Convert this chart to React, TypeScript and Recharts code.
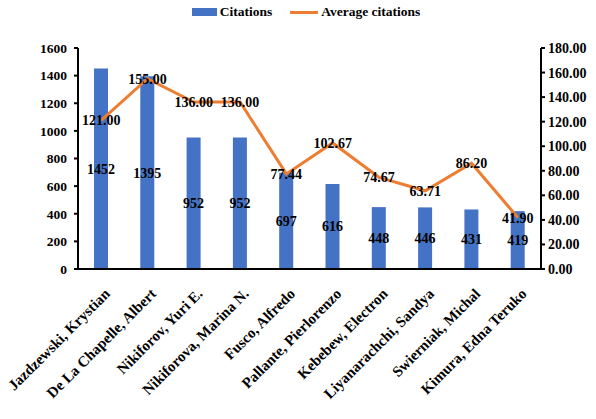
import React from "react"
import {
  ComposedChart,
  Bar,
  Line,
  XAxis,
  YAxis,
  Legend,
  LabelList,
} from "recharts"

const authors = [
  "Jazdzewski, Krystian",
  "De La Chapelle, Albert",
  "Nikiforov, Yuri E.",
  "Nikiforova, Marina N.",
  "Fusco, Alfredo",
  "Pallante, Pierlorenzo",
  "Kebebew, Electron",
  "Liyanarachchi, Sandya",
  "Swierniak, Michal",
  "Kimura, Edna Teruko",
]
const citations = [1452, 1395, 952, 952, 697, 616, 448, 446, 431, 419]
const avgCitations = [121.0, 155.0, 136.0, 136.0, 77.44, 102.67, 74.67, 63.71, 86.2, 41.9]

const leftTicks = [0, 200, 400, 600, 800, 1000, 1200, 1400, 1600]
const rightTicks = [0, 20, 40, 60, 80, 100, 120, 140, 160, 180]

const BLUE = "#4472C4"
const ORANGE = "#ED7D31"
const FONT = "Liberation Serif"

const data = authors.map((name, i) => ({
  name,
  citations: citations[i],
  avg: avgCitations[i],
}))

const textStyle = { fontFamily: FONT, fontWeight: 700, fontSize: 14, fill: "#000" }

// rotated author names under each bar
function AuthorTick({ x, y, payload }: any) {
  return (
    <g transform={`translate(${x + 6},${y + 14}) rotate(-45)`}>
      <text
        textAnchor="end"
        dy="0.35em"
        style={{ fontFamily: FONT, fontWeight: 700, fontSize: 15 }}
        fill="#000"
      >
        {payload.value}
      </text>
    </g>
  )
}

function TopLegend() {
  return (
    <div
      style={{
        display: "flex",
        justifyContent: "center",
        alignItems: "center",
        gap: 18,
        fontFamily: FONT,
        fontWeight: 700,
        fontSize: 13.5,
        color: "#000",
        paddingLeft: 16,
      }}
    >
      <span style={{ display: "flex", alignItems: "center" }}>
        <span style={{ width: 25, height: 8, background: BLUE, marginRight: 3 }} />
        Citations
      </span>
      <span style={{ display: "flex", alignItems: "center" }}>
        <span style={{ width: 28, height: 3, background: ORANGE, marginRight: 3 }} />
        Average citations
      </span>
    </div>
  )
}

export default function App() {
  return (
    <div style={{ position: "absolute", left: 0, top: 0, background: "#fff", fontFamily: FONT }}>
      <ComposedChart
        width={596}
        height={419}
        data={data}
        margin={{ top: 24, right: 0, left: 0, bottom: 0 }}
        style={{ fontFamily: FONT }}
      >
        <Legend
          verticalAlign="top"
          height={24}
          content={<TopLegend />}
          wrapperStyle={{ top: 4 }}
        />
        <XAxis
          dataKey="name"
          height={150}
          interval={0}
          tick={<AuthorTick />}
          tickLine={false}
          axisLine={{ stroke: "#000", strokeWidth: 2 }}
        />
        <YAxis
          yAxisId="left"
          width={78}
          domain={[0, 1600]}
          ticks={leftTicks}
          interval={0}
          tick={{ ...textStyle, fontSize: 13.5 }}
          tickSize={4}
          tickMargin={7}
          axisLine={{ stroke: "#000", strokeWidth: 2 }}
          tickLine={{ stroke: "#000", strokeWidth: 2 }}
        />
        <YAxis
          yAxisId="right"
          orientation="right"
          width={55}
          domain={[0, 180]}
          ticks={rightTicks}
          interval={0}
          tickFormatter={(v: number) => v.toFixed(2)}
          tick={textStyle}
          tickSize={4}
          tickMargin={3}
          axisLine={{ stroke: "#000", strokeWidth: 2 }}
          tickLine={{ stroke: "#000", strokeWidth: 2 }}
        />
        <Bar
          yAxisId="left"
          dataKey="citations"
          fill={BLUE}
          barSize={14}
          isAnimationActive={false}
        >
          <LabelList dataKey="citations" position="center" style={textStyle} />
        </Bar>
        <Line
          yAxisId="right"
          dataKey="avg"
          stroke={ORANGE}
          strokeWidth={3}
          dot={false}
          isAnimationActive={false}
        >
          <LabelList
            dataKey="avg"
            position="center"
            formatter={(v: any) => Number(v).toFixed(2)}
            style={textStyle}
          />
        </Line>
      </ComposedChart>
    </div>
  )
}
